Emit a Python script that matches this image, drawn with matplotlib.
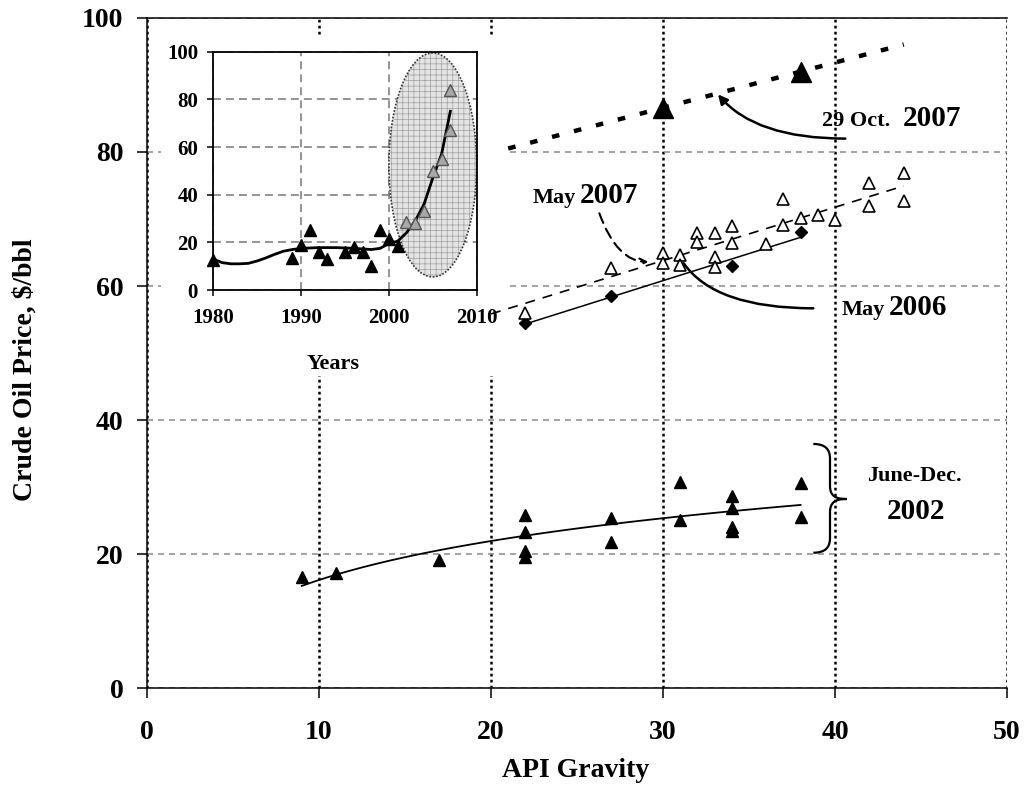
import numpy as np
import matplotlib
matplotlib.use("Agg")
import matplotlib.pyplot as plt
from matplotlib.patches import Ellipse, Rectangle, PathPatch
from matplotlib.path import Path

plt.rcParams['font.family'] = ['Liberation Serif', 'DejaVu Serif']
plt.rcParams['font.weight'] = 'bold'
plt.rcParams['hatch.linewidth'] = 0.5

# June-Dec. 2002 (filled triangles)
api_2002 = [9, 11, 17, 22, 22, 22, 22, 27, 27, 31, 31, 34, 34, 34, 34, 38, 38]
price_2002 = [16.5, 17.2, 19.1, 25.8, 23.3, 20.4, 19.5, 25.4, 21.8, 30.7, 25.1,
              28.7, 26.9, 24.1, 23.4, 30.6, 25.5]

# May 2006 (diamonds)
api_2006 = [22, 27, 34, 38]
price_2006 = [54.5, 58.5, 63.0, 68.0]

# May 2007 (open triangles)
api_2007 = [22, 27, 30, 30, 31, 31, 32, 32, 33, 33, 33, 34, 34, 36, 37, 37,
            38, 39, 40, 42, 42, 44, 44]
price_2007 = [56.0, 62.7, 65.0, 63.4, 64.6, 63.1, 67.9, 66.6, 67.9, 64.3, 62.8,
              69.0, 66.4, 66.3, 73.0, 69.1, 70.1, 70.6, 69.8, 75.4, 72.0, 76.9, 72.7]

# 29 Oct. 2007 (large triangles)
api_oct = [30, 38]
price_oct = [86.6, 92.0]

# inset: yearly prices
years_black = [1980, 1989, 1990, 1991, 1992, 1993, 1995, 1996, 1997, 1998, 1999, 2000, 2001]
vals_black = [12.6, 13.3, 19.0, 25.0, 16.0, 13.0, 16.0, 18.0, 16.0, 10.0, 25.0, 21.5, 18.5]
years_gray = [2002, 2003, 2004, 2005, 2006, 2007, 2007]
vals_gray = [28.7, 28.0, 33.0, 50.0, 55.0, 67.0, 84.0]
curve_years = [1980, 1981, 1982, 1983, 1984, 1985, 1986, 1987, 1988, 1989, 1990,
               1992, 1994, 1996, 1998, 1999, 2000, 2001, 2002, 2003, 2004, 2005, 2006, 2007]
curve_vals = [13.0, 11.5, 11.0, 11.0, 11.2, 12.2, 13.5, 15.0, 16.3, 17.0, 17.5,
              17.8, 17.8, 17.5, 17.0, 17.5, 19.5, 20.5, 24.0, 29.0, 36.0, 47.0, 57.0, 75.0]

fig = plt.figure(figsize=(10.26, 7.86), dpi=100)
ax = fig.add_axes([0.14327, 0.12468, 0.8382, 0.85242])

ax.set_xlim(0, 50)
ax.set_ylim(0, 100)
ax.set_xticks(range(0, 51, 10))
ax.set_yticks(range(0, 101, 20))
ax.set_axisbelow(True)
ax.xaxis.grid(True, color='black', lw=1.8, ls=(0, (1.1, 1.3)))
ax.yaxis.grid(True, color='#8a8a8a', lw=1.1, ls=(0, (3.9, 3.3)))
for s in ['left', 'bottom', 'top']:
    ax.spines[s].set_linewidth(1.1)
ax.spines['right'].set_visible(False)
ax.tick_params(axis='both', labelsize=20, length=7, width=1.1, direction='out')
ax.tick_params(axis='x', pad=16)
ax.tick_params(axis='y', pad=10)
ax.set_xlabel('API Gravity', fontsize=20, fontweight='bold')
ax.set_ylabel('Crude Oil Price, $/bbl', fontsize=20, fontweight='bold')
ax.xaxis.set_label_coords(0.498, -0.105)
ax.yaxis.set_label_coords(-0.127, 0.475)

# white area behind the inset
ax.add_patch(Rectangle((0.8, 46.5), 20.1, 50.8, facecolor='white', edgecolor='none', zorder=1))

# 2002
ax.plot(api_2002, price_2002, ls='none', marker='^', ms=9, color='black', zorder=4)
a2, b2 = np.polyfit(np.log(api_2002), price_2002, 1)
xx = np.linspace(min(api_2002), max(api_2002), 100)
ax.plot(xx, a2 * np.log(xx) + b2, color='black', lw=1.3, zorder=3)

# May 2006
ax.plot(api_2006, price_2006, ls='none', marker='D', ms=6.5, color='black', zorder=4)
c6 = np.polyfit(api_2006, price_2006, 1)
xx = np.array([min(api_2006), max(api_2006)])
ax.plot(xx, np.polyval(c6, xx), color='black', lw=1.1, zorder=3)

# May 2007
ax.plot(api_2007, price_2007, ls='none', marker='^', ms=8, mfc='white', mec='black',
        mew=1.2, zorder=4)
c7 = np.polyfit(api_2007, price_2007, 1)
xx = np.array([20, 44])
ax.plot(xx, np.polyval(c7, xx), color='black', lw=1.2, ls=(0, (6, 4.8)), zorder=3)

# 29 Oct 2007
ax.plot(api_oct, price_oct, ls='none', marker='^', ms=15, color='black', zorder=4)
co = np.polyfit(api_oct, price_oct, 1)
xx = np.array([21, 44])
ax.plot(xx, np.polyval(co, xx), color='black', lw=3.2, ls=(0, (1.7, 3.4)),
        solid_capstyle='butt', dash_capstyle='butt', zorder=3)

# annotations
ax.text(39.24, 83.9, '29 Oct.', fontsize=16, va='baseline', ha='left', zorder=5)
ax.text(43.95, 83.9, '2007', fontsize=21, va='baseline', ha='left', zorder=5)
ax.annotate('', xy=(33.2, 88.6), xytext=(40.6, 82.0),
            arrowprops=dict(arrowstyle='-|>', color='black', lw=1.8,
                            mutation_scale=14, shrinkA=0, shrinkB=0,
                            connectionstyle='angle3,angleA=0,angleB=130'), zorder=5)

ax.text(22.44, 72.4, 'May', fontsize=16, va='baseline', ha='left', zorder=5)
ax.text(25.17, 72.4, '2007', fontsize=21, va='baseline', ha='left', zorder=5)
ax.annotate('', xy=(29.15, 63.6), xytext=(26.3, 70.85),
            arrowprops=dict(arrowstyle='->', color='black', lw=1.5, ls=(0, (5, 3)),
                            mutation_scale=12, shrinkA=0, shrinkB=0,
                            connectionstyle='angle3,angleA=110,angleB=0'), zorder=5)

ax.text(40.4, 55.7, 'May', fontsize=16, va='baseline', ha='left', zorder=5)
ax.text(43.14, 55.7, '2006', fontsize=21, va='baseline', ha='left', zorder=5)
ax.annotate('', xy=(31.2, 63.4), xytext=(38.74, 56.67),
            arrowprops=dict(arrowstyle='-', color='black', lw=1.8,
                            shrinkA=0, shrinkB=0,
                            connectionstyle='angle3,angleA=0,angleB=125'), zorder=5)

ax.text(44.6, 31.6, 'June-Dec.', fontsize=16, va='center', ha='center', zorder=5)
ax.text(44.7, 26.3, '2002', fontsize=21, va='center', ha='center', zorder=5)

verts = [(38.74, 36.42), (39.45, 36.42), (39.71, 35.6), (39.71, 34.2),
         (39.71, 30.2),
         (39.71, 28.7), (40.0, 28.21), (40.68, 28.21),
         (40.0, 28.21), (39.71, 27.7), (39.71, 26.2),
         (39.71, 22.4),
         (39.71, 21.0), (39.45, 20.19), (38.74, 20.19)]
codes = [Path.MOVETO, Path.CURVE4, Path.CURVE4, Path.CURVE4,
         Path.LINETO,
         Path.CURVE4, Path.CURVE4, Path.CURVE4,
         Path.CURVE4, Path.CURVE4, Path.CURVE4,
         Path.LINETO,
         Path.CURVE4, Path.CURVE4, Path.CURVE4]
ax.add_patch(PathPatch(Path(verts, codes), facecolor='none', edgecolor='black',
                       lw=1.6, zorder=5))

# inset
ins = fig.add_axes([0.2079, 0.6310, 0.2567, 0.3032])
ins.set_xlim(1980, 2010)
ins.set_ylim(0, 100)
ins.set_xticks([1980, 1990, 2000, 2010])
ins.set_yticks(range(0, 101, 20))
ins.set_axisbelow(True)
ins.grid(True, color='#777777', lw=1.1, ls=(0, (5.2, 3.3)))
for s in ins.spines.values():
    s.set_linewidth(1.3)
ins.tick_params(axis='both', labelsize=15, length=4, width=1.1, direction='out')
ins.tick_params(axis='x', pad=9)
ins.tick_params(axis='y', pad=7)
ins.set_xlabel('Years', fontsize=16, fontweight='bold')
ins.xaxis.set_label_coords(0.455, -0.27)

ins.add_patch(Ellipse((2005, 52.5), 10, 94, facecolor='#e4e4e4', edgecolor='#a0a0a0',
                      hatch='+++', lw=0, zorder=1, clip_on=False))
ins.add_patch(Ellipse((2005, 52.5), 10, 94, fill=False, edgecolor='#333333',
                      ls=(0, (1, 1)), lw=1.2, zorder=1.1, clip_on=False))
ins.plot(curve_years, curve_vals, color='black', lw=2.0, zorder=3)
ins.plot(years_black, vals_black, ls='none', marker='^', ms=8.5, color='black', zorder=4,
         clip_on=False)
ins.plot(years_gray, vals_gray, ls='none', marker='^', ms=8.5, mfc='#a8a8a8',
         mec='#555555', mew=1, zorder=4)

fig.savefig('out.png', dpi=100)
